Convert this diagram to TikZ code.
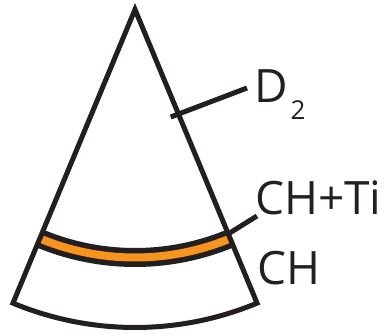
\documentclass[tikz,border=0pt]{standalone}
\usepackage{fontspec}
\setmainfont{Open Sans}
\usepackage{xcolor}
\definecolor{shellink}{HTML}{231F20}
\definecolor{shellorange}{HTML}{F7941E}
\usepackage{tikz}
\usetikzlibrary{calc}

\begin{document}
\begin{tikzpicture}[x=1pt,y=1pt,
  wall/.style={draw=shellink,line width=5pt},
  leader/.style={draw=shellink,line width=5pt},
  lbl/.style={anchor=base west,inner sep=0pt,text=shellink,font=\fontsize{46}{46}\selectfont}]
\useasboundingbox (0,0) rectangle (385,334);
\coordinate (apex) at (135,324.5);
\coordinate (lcorner) at ($(apex)+(247.43:318pt)$);
\coordinate (bandstart) at ($(apex)+(247.43:248pt)$);
\draw[shellink,line width=19pt] (bandstart) arc[start angle=247.43,end angle=292.57,radius=248pt];
\draw[shellorange,line width=8pt] (bandstart) arc[start angle=247.43,end angle=292.57,radius=248pt];
\draw[wall] (apex) -- (lcorner) arc[start angle=247.43,end angle=292.57,radius=318pt] -- cycle;
\coordinate (d2tick) at (170.7,217);
\coordinate (chtitick) at ($(apex)+(292.57:243pt)$);
\node[lbl] (d2) at (254,231) {D\kern3pt\raisebox{-17pt}{\fontsize{26}{26}\selectfont 2}};
\node[lbl] (chti) at (255,119) {CH+Ti};
\node[lbl] (ch) at (257,49) {CH};
\draw[leader] (d2tick) -- ([shift={(-7pt,15pt)}]d2.base west);
\draw[leader] (chtitick) -- ([shift={(2pt,-1pt)}]chti.base west);
\end{tikzpicture}
\end{document}
